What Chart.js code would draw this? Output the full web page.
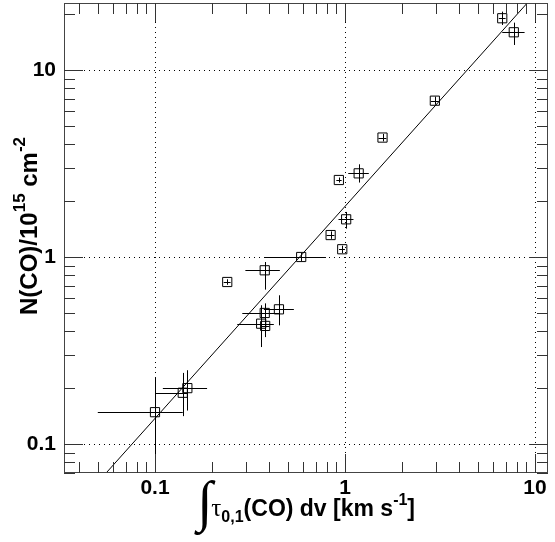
<!DOCTYPE html>
<html>
<head>
<meta charset="utf-8">
<script src="https://cdn.jsdelivr.net/npm/chart.js@4.4.0/dist/chart.umd.min.js"></script>
<style>
  html, body { margin: 0; padding: 0; background: #fff; }
  canvas { display: block; }
</style>
</head>
<body>
<canvas id="canvas" width="555" height="542"></canvas>
<script>
// measured points: integrated optical depth vs column density
var ptX = [6.72, 7.73, 2.97, 1.575, 1.18, 0.928, 1.014, 0.84, 0.967, 0.588, 0.378, 0.24, 0.449, 0.378, 0.362, 0.38, 0.148, 0.14, 0.1];
var ptY = [18.9, 15.9, 6.85, 4.35, 2.8, 2.58, 1.59, 1.31, 1.1, 1.0, 0.849, 0.735, 0.525, 0.502, 0.44, 0.428, 0.199, 0.188, 0.148];
// error bar ends
var xLo = [6.45, 6.72, 2.83, 1.5, 1.04, 0.9, 0.924, 0.8, 0.93, 0.378, 0.299, 0.23, 0.374, 0.288, 0.271, 0.36, 0.110, 0.1, 0.05];
var xHi = [7.0, 8.81, 3.12, 1.65, 1.334, 0.96, 1.108, 0.88, 1.0, 0.794, 0.454, 0.25, 0.538, 0.449, 0.422, 0.40, 0.188, 0.148, 0.14];
var yLo = [17.4, 13.6, 6.52, 4.15, 2.5, 2.5, 1.418, 1.25, 1.05, 0.952, 0.669, 0.71, 0.431, 0.373, 0.33, 0.41, 0.151, 0.141, 0.05];
var yHi = [20.5, 17.9, 7.2, 4.55, 3.13, 2.66, 1.741, 1.37, 1.15, 1.05, 0.94, 0.76, 0.624, 0.565, 0.552, 0.445, 0.248, 0.24, 0.228];
// fitted power law, end points
var fitX = [0.0553, 9.1];
var fitY = [0.07, 22.8];
// tick labels
var xTickLabels = [0.1, 1, 10];
var yTickLabels = [0.1, 1, 10];

var FONT = "'Liberation Sans', Arial, Helvetica, sans-serif";

function drawParts(ctx, parts, x, y) {
    var cx = x;
    parts.forEach(function (p) {
        ctx.font = p.font;
        ctx.fillText(p.t, cx, y + (p.dy || 0));
        cx += ctx.measureText(p.t).width + (p.gap || 0);
    });
    return cx - x;
}

function partsWidth(ctx, parts) {
    var w = 0;
    parts.forEach(function (p) {
        ctx.font = p.font;
        w += ctx.measureText(p.t).width + (p.gap || 0);
    });
    return w;
}

var rootFrame = {
    id: 'rootFrame',
    beforeDatasetsDraw: function (chart) {
        var ctx = chart.ctx, a = chart.chartArea;
        var xs = chart.scales.x, ys = chart.scales.y;
        ctx.save();
        // dotted grid at decades
        ctx.strokeStyle = '#000';
        ctx.lineWidth = 1;
        ctx.setLineDash([1, 4]);
        xTickLabels.forEach(function (v) {
            var px = Math.round(xs.getPixelForValue(v)) + 0.5;
            ctx.beginPath(); ctx.moveTo(px, a.bottom); ctx.lineTo(px, a.top); ctx.stroke();
        });
        yTickLabels.forEach(function (v) {
            var py = Math.round(ys.getPixelForValue(v)) + 0.5;
            ctx.beginPath(); ctx.moveTo(a.left, py); ctx.lineTo(a.right, py); ctx.stroke();
        });
        ctx.setLineDash([]);
        // error bars
        ctx.beginPath();
        ctx.rect(a.left, a.top, a.right - a.left, a.bottom - a.top);
        ctx.clip();
        ctx.strokeStyle = '#000';
        for (var i = 0; i < ptX.length; i++) {
            var px = Math.round(xs.getPixelForValue(ptX[i])) + 0.5;
            var py = Math.round(ys.getPixelForValue(ptY[i])) + 0.5;
            ctx.beginPath();
            ctx.moveTo(xs.getPixelForValue(xLo[i]), py);
            ctx.lineTo(xs.getPixelForValue(xHi[i]), py);
            ctx.moveTo(px, ys.getPixelForValue(yLo[i]));
            ctx.lineTo(px, ys.getPixelForValue(yHi[i]));
            ctx.stroke();
        }
        ctx.restore();
    },
    afterDraw: function (chart) {
        var ctx = chart.ctx, a = chart.chartArea;
        var xs = chart.scales.x, ys = chart.scales.y;
        ctx.save();
        // frame
        ctx.strokeStyle = '#444';
        ctx.lineWidth = 1;
        ctx.strokeRect(a.left + 0.5, a.top + 0.5, a.right - a.left - 1, a.bottom - a.top - 1);
        // inward ticks on all four sides
        ctx.strokeStyle = '#333';
        function ticks(scale, min, max, horiz) {
            var d0 = Math.floor(Math.log10(min)), d1 = Math.ceil(Math.log10(max));
            for (var d = d0; d <= d1; d++) {
                for (var m = 1; m <= 9; m++) {
                    var v = m * Math.pow(10, d);
                    if (v < min || v > max) continue;
                    var len = m === 1 ? 19 : 11;
                    var p = Math.round(scale.getPixelForValue(v)) + 0.5;
                    ctx.beginPath();
                    if (horiz) {
                        ctx.moveTo(p, a.bottom); ctx.lineTo(p, a.bottom - len);
                        ctx.moveTo(p, a.top); ctx.lineTo(p, a.top + len);
                    } else {
                        ctx.moveTo(a.left, p); ctx.lineTo(a.left + len, p);
                        ctx.moveTo(a.right, p); ctx.lineTo(a.right - len, p);
                    }
                    ctx.stroke();
                }
            }
        }
        ticks(xs, xs.min, xs.max, true);
        ticks(ys, ys.min, ys.max, false);

        // axis titles
        ctx.fillStyle = '#000';
        ctx.textBaseline = 'alphabetic';
        ctx.textAlign = 'left';
        var xParts = [
            { t: '\u222B', font: '56px "Liberation Serif", serif', dy: 4, gap: -1 },
            { t: '\u03C4', font: '25px "Liberation Serif", serif' },
            { t: '0,1', font: 'bold 16px ' + FONT, dy: 6 },
            { t: '(CO) dv [km s', font: 'bold 23px ' + FONT },
            { t: '-1', font: 'bold 16px ' + FONT, dy: -11 },
            { t: ']', font: 'bold 23px ' + FONT }
        ];
        var w = partsWidth(ctx, xParts);
        drawParts(ctx, xParts, (a.left + a.right) / 2 - w / 2, 516);

        var yParts = [
            { t: 'N(CO)/10', font: 'bold 24px ' + FONT },
            { t: '15', font: 'bold 17px ' + FONT, dy: -12 },
            { t: ' cm', font: 'bold 24px ' + FONT },
            { t: '-2', font: 'bold 17px ' + FONT, dy: -12 }
        ];
        ctx.translate(37, 315);
        ctx.rotate(-Math.PI / 2);
        drawParts(ctx, yParts, 0, 0);
        ctx.restore();
    }
};

var scatterData = ptX.map(function (x, i) { return { x: x, y: ptY[i] }; });
var fitData = fitX.map(function (x, i) { return { x: x, y: fitY[i] }; });

function decadeTicks(list) {
    return function (scale) {
        scale.ticks = list.map(function (v) { return { value: v }; });
    };
}

new Chart(document.getElementById('canvas').getContext('2d'), {
    type: 'scatter',
    data: {
        datasets: [{
            type: 'line',
            data: fitData,
            borderColor: '#000',
            borderWidth: 1,
            pointRadius: 0,
            fill: false
        }, {
            data: scatterData,
            pointStyle: 'rect',
            pointRadius: 6.5,
            borderColor: '#000',
            borderWidth: 1,
            backgroundColor: 'rgba(0,0,0,0)'
        }]
    },
    options: {
        responsive: false,
        animation: false,
        devicePixelRatio: 1,
        layout: { autoPadding: false, padding: { top: 3, right: 7, left: 0, bottom: 0 } },
        plugins: { legend: { display: false }, tooltip: { enabled: false } },
        scales: {
            x: {
                type: 'logarithmic',
                min: 0.0332,
                max: 11.7,
                grid: { display: false, drawTicks: false },
                border: { display: false },
                afterBuildTicks: decadeTicks(xTickLabels),
                afterFit: function (s) { s.height = 69; s.paddingLeft = 0; s.paddingRight = 0; },
                ticks: {
                    autoSkip: false,
                    maxRotation: 0,
                    padding: 3,
                    color: '#000',
                    font: { family: FONT, size: 21, weight: 'bold' },
                    callback: function (v) { return String(v); }
                }
            },
            y: {
                type: 'logarithmic',
                min: 0.07,
                max: 22.8,
                grid: { display: false, drawTicks: false },
                border: { display: false },
                afterBuildTicks: decadeTicks(yTickLabels),
                afterFit: function (s) { s.width = 64; s.paddingTop = 0; s.paddingBottom = 0; },
                ticks: {
                    autoSkip: false,
                    padding: 8,
                    color: '#000',
                    font: { family: FONT, size: 21, weight: 'bold' },
                    callback: function (v) { return String(v); }
                }
            }
        }
    },
    plugins: [rootFrame]
});
</script>
</body>
</html>
